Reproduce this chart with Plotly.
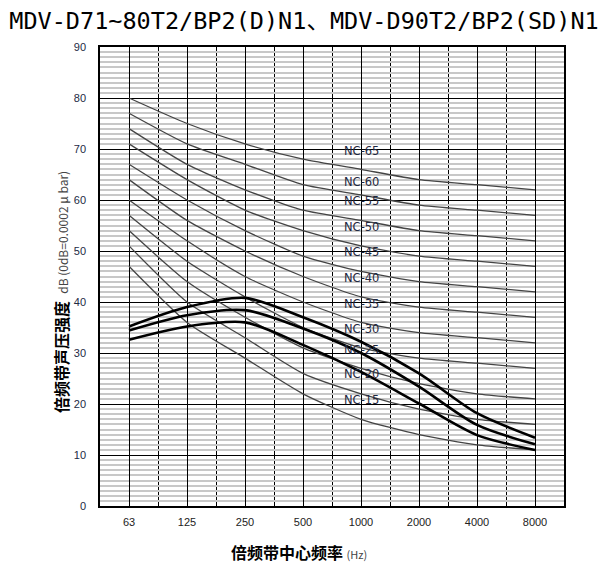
import plotly.graph_objects as go

freq_labels = ["63", "125", "250", "500", "1000", "2000", "4000", "8000"]

nc_names = ["NC-15", "NC-20", "NC-25", "NC-30", "NC-35", "NC-40",
            "NC-45", "NC-50", "NC-55", "NC-60", "NC-65"]
nc_15 = [47, 36, 29, 22, 17, 14, 12, 11]
nc_20 = [51, 40, 33, 26, 22, 19, 17, 16]
nc_25 = [54, 44, 37, 31, 27, 24, 22, 21]
nc_30 = [57, 48, 41, 35, 31, 29, 28, 27]
nc_35 = [60, 52, 45, 40, 36, 34, 33, 32]
nc_40 = [64, 56, 50, 45, 41, 39, 38, 37]
nc_45 = [67, 60, 54, 49, 46, 44, 43, 42]
nc_50 = [71, 64, 58, 54, 51, 49, 48, 47]
nc_55 = [74, 67, 62, 58, 56, 54, 53, 52]
nc_60 = [77, 71, 67, 63, 61, 59, 58, 57]
nc_65 = [80, 75, 71, 68, 66, 64, 63, 62]
nc_curves = [nc_15, nc_20, nc_25, nc_30, nc_35, nc_40,
             nc_45, nc_50, nc_55, nc_60, nc_65]
nc_label_y = [20.8, 25.8, 30.6, 34.7, 39.7, 44.8, 49.9, 54.8, 59.9, 63.6, 69.7]

unit_high = [35.2, 39.0, 40.8, 37.0, 32.2, 26.0, 18.2, 13.4]
unit_mid = [34.4, 37.4, 38.4, 34.8, 30.0, 23.4, 15.9, 12.1]
unit_low = [32.6, 35.2, 36.0, 31.6, 26.3, 20.1, 13.9, 11.0]
unit_curves = [unit_high, unit_mid, unit_low]

x_idx = list(range(len(freq_labels)))

W, H = 608, 565
ML, MR, MT, MB = 100, 44, 47, 59
PW, PH = W - ML - MR, H - MT - MB


def px_x(px):
    return (px - ML) / PW


def px_y(py):
    return (H - MB - py) / PH


fig = go.Figure()
for name, vals in zip(nc_names, nc_curves):
    fig.add_trace(go.Scatter(x=x_idx, y=vals, mode="lines", name=name,
                             line=dict(color="#444444", width=1.3, shape="spline", smoothing=0.6),
                             showlegend=False, hoverinfo="skip"))
for vals in unit_curves:
    fig.add_trace(go.Scatter(x=x_idx, y=vals, mode="lines",
                             line=dict(color="#000000", width=2.6, shape="spline", smoothing=0.8),
                             showlegend=False, hoverinfo="skip"))

for name, yv in zip(nc_names, nc_label_y):
    fig.add_annotation(x=4, y=yv, xref="x", yref="y", text=name, showarrow=False,
                       xanchor="center", yanchor="middle",
                       font=dict(family="DejaVu Sans, sans-serif", size=11.5, color="#1f2840"))

fig.update_layout(
    width=W, height=H,
    margin=dict(l=ML, r=MR, t=MT, b=MB),
    paper_bgcolor="white", plot_bgcolor="white",
    title=dict(text="MDV-D71~80T2/BP2(D)N1、MDV-D90T2/BP2(SD)N1",
               x=0.5, xanchor="center", xref="paper",
               y=1 - 21 / H, yanchor="middle", yref="container",
               font=dict(family="DejaVu Sans Mono, Noto Sans CJK SC, monospace", size=23.5, color="#000")),
    xaxis=dict(range=[-0.5, 7.5], tickvals=x_idx, ticktext=freq_labels,
               showgrid=True, gridcolor="#000", gridwidth=1,
               minor=dict(tick0=-0.5, dtick=0.5, showgrid=True, gridcolor="#000", gridwidth=1),
               showline=True, linecolor="#000", linewidth=1.5, mirror=True,
               ticks="", zeroline=False,
               tickfont=dict(family="Liberation Sans, Arial, sans-serif", size=11, color="#222"),
               ticklabelstandoff=5),
    yaxis=dict(range=[0, 90], dtick=10, tick0=0,
               showgrid=True, gridcolor="#000", gridwidth=1,
               minor=dict(dtick=1, showgrid=True, gridcolor="#c8c8c8", gridwidth=1.5),
               showline=True, linecolor="#000", linewidth=1.5, mirror=True,
               ticks="", zeroline=False,
               tickfont=dict(family="Liberation Sans, Arial, sans-serif", size=11, color="#222a44"),
               ticklabelstandoff=10),
)
# center the title on the page rather than the plot area
fig.layout.title.x = px_x(W / 2)

fig.add_annotation(x=px_x(61), xref="paper", y=px_y(292), yref="paper", showarrow=False,
                   textangle=-90, xanchor="center", yanchor="middle",
                   text="<b>倍频带声压强度</b>  <span style='font-size:12px;color:#444'>dB (0dB=0.0002 μ bar)</span>",
                   font=dict(family="Noto Sans CJK SC, sans-serif", size=16, color="#000"))
fig.add_annotation(x=px_x(299), xref="paper", y=px_y(552), yref="paper", showarrow=False,
                   xanchor="center", yanchor="middle",
                   text="<b>倍频带中心频率</b> <span style='font-size:11px;color:#444'>(Hz)</span>",
                   font=dict(family="Noto Sans CJK SC, sans-serif", size=16, color="#000"))

fig.write_html("out.html", config={"displayModeBar": False},
               post_script="document.body.style.margin='0';document.body.style.overflow='hidden';")
